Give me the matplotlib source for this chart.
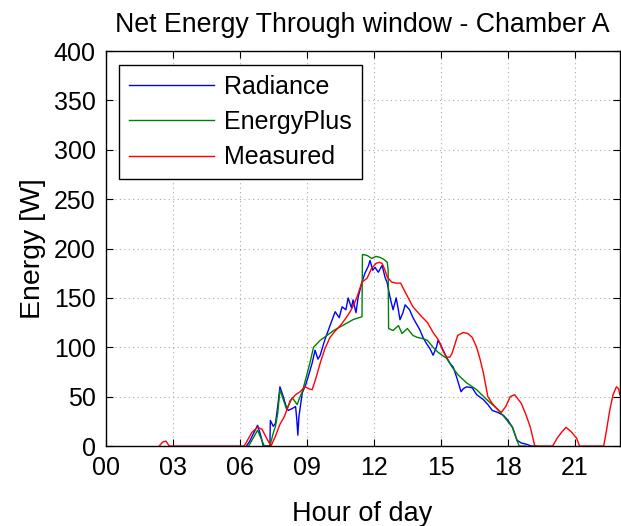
import matplotlib
matplotlib.use("Agg")
import matplotlib.pyplot as plt

plt.rcParams["font.family"] = ["Liberation Sans", "DejaVu Sans"]

# Radiance (simulated)
rad_h = [6.3, 6.45, 6.6, 6.8, 6.95, 7.05, 7.35, 7.37, 7.5, 7.6, 7.7, 7.8, 7.95, 8.05, 8.17,
         8.35, 8.5, 8.56, 8.6, 8.65, 8.8, 8.95, 9.06, 9.24, 9.37, 9.5, 9.6, 9.8, 10.04,
         10.27, 10.45, 10.58, 10.75, 10.85, 11.0, 11.07, 11.2, 11.3, 11.47, 11.6, 11.75,
         11.83, 11.95, 12.05, 12.2, 12.37, 12.5, 12.6, 12.72, 12.86, 13.0, 13.08, 13.17,
         13.3, 13.4, 13.6, 13.75, 13.9, 14.05, 14.2, 14.35, 14.5, 14.65, 14.8, 14.87,
         15.0, 15.1, 15.25, 15.4, 15.55, 15.7, 15.9, 16.0, 16.15, 16.4, 16.6, 16.9,
         17.1, 17.3, 17.55, 17.8, 18.0, 18.2, 18.4, 18.6, 18.8, 19.05, 19.3]
rad_w = [0, 5, 12, 21, 10, 0, 0, 26, 20, 23, 40, 60, 50, 42, 36,
         38, 40, 25, 11, 30, 54, 62, 70, 84, 97, 88, 92, 107, 122,
         136, 130, 141, 138, 150, 140, 148, 135, 151, 166, 175, 182,
         188, 178, 181, 176, 183, 171, 165, 151, 138, 150, 140, 128,
         135, 143, 138, 130, 124, 118, 110, 104, 99, 92, 100, 107,
         102, 97, 90, 84, 80, 70, 55, 58, 60, 59, 52, 47,
         42, 36, 34, 31, 26, 19, 6, 3, 2, 0, 0]

# EnergyPlus (simulated)
ep_h = [6.4, 6.55, 6.8, 6.95, 7.1, 7.35, 7.5, 7.6, 7.7, 7.8, 7.95, 8.1, 8.35, 8.57, 8.7,
        8.8, 9.0, 9.15, 9.3, 9.6, 9.9, 10.2, 10.6, 11.07, 11.47, 11.49, 11.7, 11.9,
        12.1, 12.28, 12.45, 12.6, 12.64, 12.66, 12.86, 13.1, 13.26, 13.5, 13.75, 13.95,
        14.15, 14.4, 14.65, 14.87, 15.05, 15.25, 15.5, 15.77, 16.15, 16.6, 17.05, 17.5,
        17.85, 18.2, 18.4, 18.5, 18.8]
ep_w = [0, 6, 16, 8, 0, 0, 13, 20, 33, 57, 47, 37, 49, 42, 50,
        55, 72, 85, 100, 107, 112, 117, 122, 128, 131, 194, 193, 190,
        192, 191, 189, 186, 178, 119, 117, 122, 114, 119, 112, 110,
        109, 107, 100, 95, 92, 89, 80, 72, 64, 57, 47, 38,
        29, 19, 6, 0, 0]

# Measured
mea_h = [2.4, 2.55, 2.7, 2.85, 6.2, 6.35, 6.55, 6.8, 7.0, 7.2, 7.4, 7.6, 7.8, 8.0, 8.26,
         8.5, 8.7, 8.93, 9.1, 9.24, 9.4, 9.6, 9.8, 10.04, 10.25, 10.5, 10.7, 10.94, 11.1,
         11.25, 11.47, 11.7, 11.9, 12.1, 12.25, 12.37, 12.5, 12.6, 12.8, 13.0, 13.2, 13.4,
         13.75, 14.1, 14.4, 14.65, 14.9, 15.1, 15.25, 15.4, 15.5, 15.75, 16.0, 16.2, 16.4,
         16.6, 16.75, 16.9, 17.1, 17.3, 17.5, 17.7, 17.9, 18.1, 18.3, 18.6, 18.8, 19.0,
         19.2, 20.0, 20.2, 20.4, 20.6, 20.85, 21.07, 21.2, 22.28, 22.4, 22.55, 22.7,
         22.85, 22.95, 23.0]
mea_w = [0, 4, 5, 0, 0, 6, 14, 19, 17, 8, 0, 10, 22, 30, 46,
         52, 55, 60, 58, 57, 68, 84, 98, 110, 116, 122, 128, 136, 143,
         151, 166, 170, 180, 185, 186, 185, 178, 171, 166, 165, 165, 156,
         141, 132, 125, 115, 107, 96, 90, 90, 94, 112, 115, 114, 110,
         100, 88, 74, 50, 43, 38, 34, 40, 50, 52, 43, 32, 19,
         0, 0, 8, 14, 19, 14, 8, 0, 0, 15, 36, 52,
         60, 58, 52]

fig = plt.figure(figsize=(6.21, 5.26), dpi=100)
ax = fig.add_axes([0.170, 0.152, 0.828, 0.751])

ax.plot(rad_h, rad_w, color=(0, 0, 1), lw=1.0, label="Radiance")
ax.plot(ep_h, ep_w, color=(0, 0.5, 0), lw=1.0, label="EnergyPlus")
ax.plot(mea_h, mea_w, color=(1, 0, 0), lw=1.0, label="Measured")

ax.set_xlim(0, 23)
ax.set_ylim(0, 400)
ax.set_xticks(range(0, 24, 3))
ax.set_xticklabels(["%02d" % h for h in range(0, 24, 3)])
ax.set_yticks(range(0, 401, 50))
ax.grid(True, color="#a8a8a8", linestyle=(0, (1, 3)), linewidth=0.8)
ax.tick_params(direction="in", top=True, right=True, length=5, width=0.8,
               labelsize=18, pad=7)
for s in ax.spines.values():
    s.set_linewidth(1.0)

ax.set_title("Net Energy Through window - Chamber A", fontsize=19.3, pad=14)
ax.set_xlabel("Hour of day", fontsize=19.5, labelpad=15)
ax.set_ylabel("Energy [W]", fontsize=20.5, labelpad=6)

leg = ax.legend(loc="upper left", fontsize=18, fancybox=False, framealpha=1,
                edgecolor="black", handlelength=3.4, borderaxespad=0.55,
                labelspacing=0.45, handletextpad=0.4, borderpad=0.4)
leg.get_frame().set_linewidth(1.0)

fig.savefig("out.png", dpi=100)
